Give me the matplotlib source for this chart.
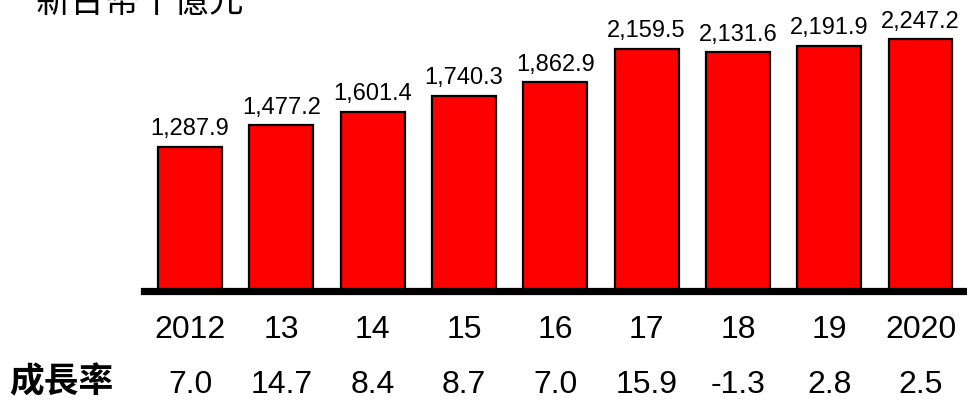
import matplotlib
matplotlib.use('Agg')
import matplotlib.pyplot as plt

# datos
anos = ['2012', '13', '14', '15', '16', '17', '18', '19', '2020']
valores = [1287.9, 1477.2, 1601.4, 1740.3, 1862.9, 2159.5, 2131.6, 2191.9, 2247.2]
crecimiento = ['7.0', '14.7', '8.4', '8.7', '7.0', '15.9', '-1.3', '2.8', '2.5']
unidad = '新台幣十億元'
etiqueta_crec = '成長率'

num_font = 'Liberation Sans'
cjk_font = ['Noto Sans CJK TC', 'DejaVu Sans']

fig = plt.figure(figsize=(9.67, 4), dpi=100)
W, H = 967.0, 400.0
# ejes: de x=144 a 965 px, base en y=290.5 px
ax = fig.add_axes([144 / W, 1 - 290.5 / H, (965 - 144) / W, 290.5 / H])
ax.set_xlim(-0.504, 8.487)
ax.set_ylim(0, 2600)
ax.axis('off')

x = list(range(len(anos)))
ax.bar(x, valores, width=0.70, color='#ff0000', edgecolor='black', linewidth=1.6, zorder=2)
ax.axhline(0, color='black', linewidth=5.2, zorder=3, clip_on=False)

for xi, v in zip(x, valores):
    ax.annotate(f'{v:,.1f}', (xi, v), xytext=(0, 8.5), textcoords='offset points',
                ha='center', va='baseline', fontsize=17, family=num_font)

trans = ax.get_xaxis_transform()
for xi, a, c in zip(x, anos, crecimiento):
    ax.text(xi, -39.5 / 290.5, a, transform=trans, ha='center', va='center',
            fontsize=23, family=num_font)
    ax.text(xi, -94.5 / 290.5, c, transform=trans, ha='center', va='center',
            fontsize=23, family=num_font)

fig.text(61 / W, 1 - 382 / H, etiqueta_crec, ha='center', va='center',
         fontsize=25, family=cjk_font, fontweight='bold')
fig.text(35 / W, 1 - 2 / H, unidad, ha='left', va='center',
         fontsize=25, family=cjk_font)

fig.savefig('out.png', dpi=100)
